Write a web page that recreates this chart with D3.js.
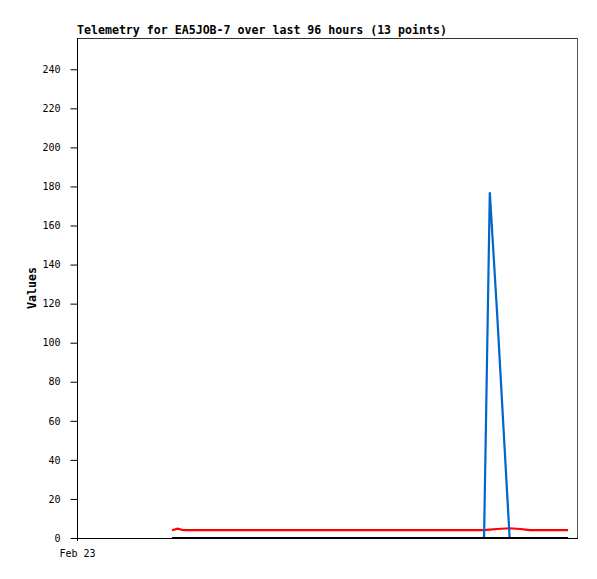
<!DOCTYPE html>
<html><head><meta charset="utf-8">
<script src="https://cdn.jsdelivr.net/npm/d3@7"></script>
<style>body{margin:0;background:#fff}svg{display:block}</style>
</head><body>
<script>
// Hours since Feb 23 00:00
const times = [18.2, 19.3, 20.4, 41.0, 63.0, 71.0, 78.0, 79.1, 80.5, 82.9, 84.9, 86.8, 94.1];
const redValues   = [4, 4.8, 4, 4, 4, 4, 4, 4.3, 4.6, 5, 4.6, 4, 4];
const blueValues  = [0, 0, 0, 0, 0, 0, 0, 177, 115, 0, 0, 0, 0];
const blackValues = [0, 0, 0, 0, 0, 0, 0, 0, 0, 0, 0, 0, 0];
const yTicks = [0, 20, 40, 60, 80, 100, 120, 140, 160, 180, 200, 220, 240];
const xTickLabels = ["Feb 23"];
const title = "Telemetry for EA5JOB-7 over last 96 hours (13 points)";

const W = 597, H = 579;
const L = 77, R = 578, T = 38, B = 538;
const svg = d3.select("body").append("svg").attr("width", W).attr("height", H);
const x = d3.scaleLinear().domain([0, 96]).range([L, R]);
const y = d3.scaleLinear().domain([0, 256]).range([B, T]);
const font = "DejaVu Sans Mono, monospace";

svg.append("text").attr("x", L).attr("y", 34).attr("font-family", font)
  .attr("font-weight", "bold").attr("font-size", "11.6px").text(title);

// frame
svg.append("line").attr("x1", L).attr("x2", R).attr("y1", T + 0.5).attr("y2", T + 0.5).attr("stroke", "#333");
svg.append("line").attr("x1", R - 0.5).attr("x2", R - 0.5).attr("y1", T).attr("y2", B + 1).attr("stroke", "#555");

const yAxis = d3.axisLeft(y).tickValues(yTicks).tickSize(7).tickPadding(10).tickFormat(d3.format("d"));
const ga = svg.append("g").attr("transform", `translate(${L + 0.5},0)`).call(yAxis);
ga.select(".domain").attr("stroke", "#000").attr("d", `M0,${T}V${B + 3}`);
ga.selectAll("text").attr("font-family", font).attr("font-size", "10px").attr("fill", "#000");
ga.selectAll("line").attr("stroke", "#000");

svg.append("line").attr("x1", L).attr("x2", R).attr("y1", B + 0.5).attr("y2", B + 0.5).attr("stroke", "#000");

const xAxis = d3.axisBottom(x).tickValues([0]).tickSize(0).tickPadding(12).tickFormat((d, i) => xTickLabels[i]);
const gx = svg.append("g").attr("transform", `translate(0,${B})`).call(xAxis);
gx.select(".domain").remove();
gx.selectAll("text").attr("font-family", font).attr("font-size", "10px").attr("fill", "#000");

svg.append("text").attr("transform", `translate(36,288) rotate(-90)`).attr("text-anchor", "middle")
  .attr("font-family", font).attr("font-weight", "bold").attr("font-size", "11.6px").text("Values");

const line = vals => d3.line().x((d, i) => x(times[i])).y(d => y(d))(vals);
svg.append("path").attr("d", line(redValues)).attr("fill", "none").attr("stroke", "#ff0000").attr("stroke-width", 2.2);
svg.append("path").attr("d", line(blueValues)).attr("fill", "none").attr("stroke", "#0066cc").attr("stroke-width", 2.2);
svg.append("path").attr("d", line(blackValues)).attr("fill", "none").attr("stroke", "#000").attr("stroke-width", 2.2);
</script>
</body></html>
